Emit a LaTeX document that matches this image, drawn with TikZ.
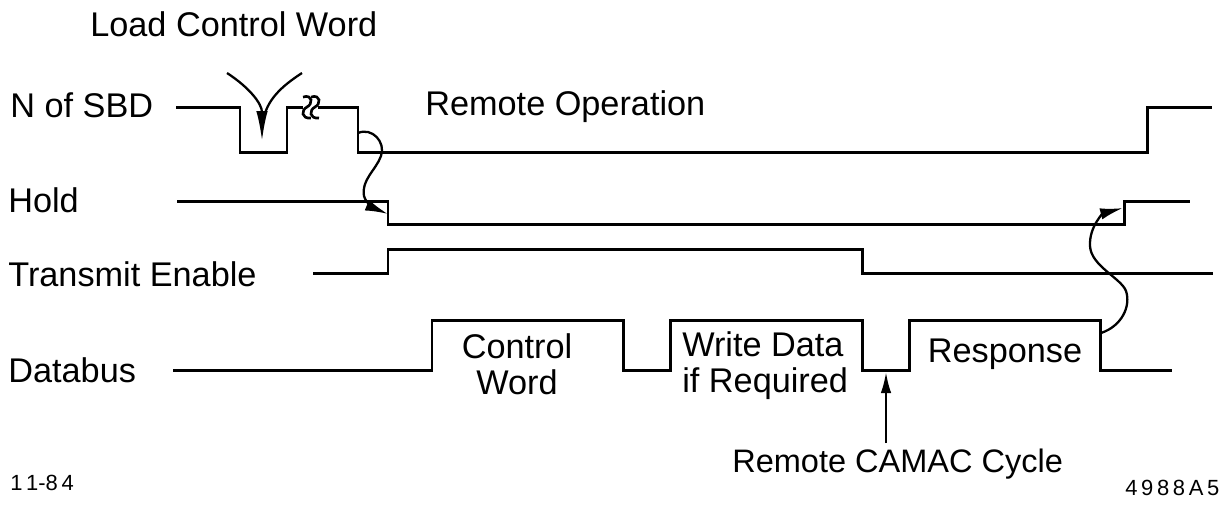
\documentclass[tikz,border=0pt]{standalone}
\usepackage{fontspec}
\setmainfont{Liberation Sans}
\usetikzlibrary{arrows.meta}

\begin{document}
\begin{tikzpicture}[x=0.02cm,y=-0.02cm,
			signal line/.style={line width=1.7pt,line join=miter},
			cause arrow/.style={line width=1.3pt,-{Latex[length=13pt,width=6.5pt]}},
			label text/.style={inner sep=0pt,anchor=base west,font=\fontsize{19.5}{20.5}\selectfont},
			small text/.style={inner sep=0pt,anchor=base west,font=\fontsize{12.5}{14}\selectfont}
			]

			\useasboundingbox (0,0) rectangle (1227,508);

			\def \nHi {107};
			\def \nLo {152};
			\def \hHi {201};
			\def \hLo {224};
			\def \tHi {249};
			\def \tLo {273};
			\def \dHi {320};
			\def \dLo {370};

			% signal names
			\node[label text] (load) at (90,36) {Load Control Word};
			\node[label text] (nsbd) at (10,117) {N of SBD};
			\node[label text] (hold) at (8,212) {Hold};
			\node[label text] (txen) at (8,286) {Transmit Enable};
			\node[label text] (dbus) at (8,382) {Databus};

			% waveforms
			\draw[signal line] (176,\nHi) -| (240,\nLo) -| (287,\nHi) -- (303,\nHi);
			\draw[signal line] (318,\nHi) -| (358,\nLo) -| (1147,\nHi) -- (1212,\nHi);
			\foreach \sx in {307,315} {
				\draw[line width=1.5pt] (\sx-4,97) .. controls (\sx+6,94) and (\sx+6,104) .. (\sx,107)
					.. controls (\sx-6,110) and (\sx-6,119) .. (\sx+4,118);
			}
			\draw[signal line] (177,\hHi) -| (388,\hLo) -| (1124,\hHi) -- (1190,\hHi);
			\draw[signal line] (313,\tLo) -| (388,\tHi) -| (862,\tLo) -- (1213,\tLo);
			\draw[signal line] (173,\dLo) -| (432,\dHi) -| (623,\dLo) -| (670,\dHi) -| (862,\dLo)
				-| (909,\dHi) -| (1100,\dLo) -- (1172,\dLo);

			% phase labels
			\node[label text] (remop) at (425,115) {Remote Operation};
			\node[label text,anchor=center,align=center] (cword) at (517,364) {Control\\Word};
			\node[label text,anchor=west,align=left] (wdata) at (682,366) {Write Data\\if Required};
			\node[label text,anchor=base] (resp) at (1005,362) {Response};
			\node[label text,font=\fontsize{18.5}{20}\selectfont] (camac) at (732,472) {Remote CAMAC Cycle};
			\node[small text] (date) at (10,490) {1\,1-8\,4};
			\node[small text] (fignum) at (1125,495) {4\,9\,8\,8\,A\,5};

			% load arrow
			\coordinate (ldtip) at (262,141);
			\draw[line width=1.3pt] (302,73) .. controls (282,86) and (266,100) .. (263,122);
			\draw[cause arrow,-{Latex[length=17pt,width=6.5pt]}] (227,73) .. controls (250,88) and (262,104) .. (ldtip);

			% cause and effect
			\coordinate (nfall) at (358,133);
			\coordinate (hfall) at (388,214);
			\coordinate (dfall) at (1101,333);
			\coordinate (hrise) at (1123,208);
			\draw[cause arrow] (nfall) .. controls (372,127) and (386,142) .. (381,156)
				.. controls (376,170) and (361,180) .. (364,196) .. controls (366,204) and (376,209) .. (hfall);
			\draw[cause arrow] (dfall) .. controls (1122,326) and (1131,306) .. (1126,291)
				.. controls (1121,278) and (1091,266) .. (1090,246) .. controls (1089,226) and (1104,213) .. (hrise);

			% remote cycle
			\coordinate (cyc) at (886,372);
			\coordinate (cycfoot) at (886,443);
			\draw[cause arrow,-{Latex[length=12pt,width=6pt]}] (cycfoot) -- (cyc);
		\end{tikzpicture}
\end{document}
